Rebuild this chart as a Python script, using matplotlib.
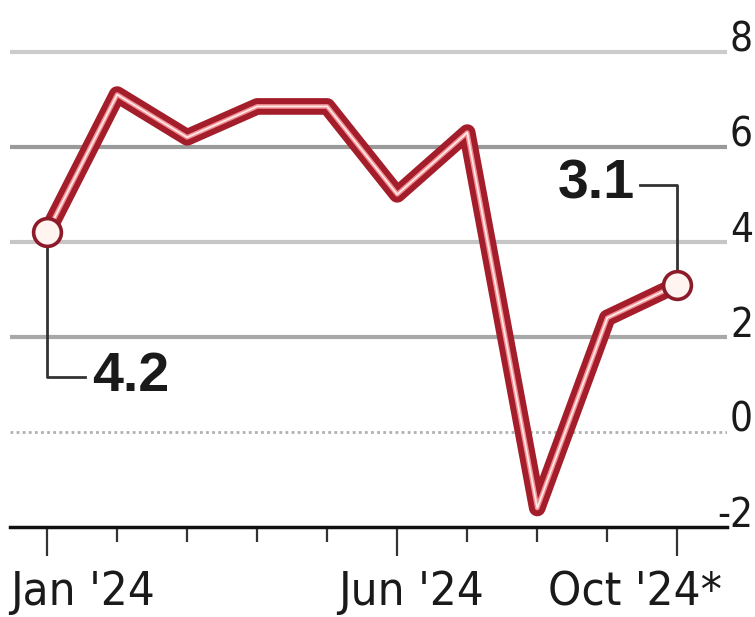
import matplotlib
matplotlib.use("Agg")
import matplotlib.pyplot as plt
from matplotlib import font_manager
from matplotlib.font_manager import FontProperties
from matplotlib.transforms import offset_copy

months = ["Jan '24", "Feb", "Mar", "Apr", "May", "Jun '24", "Jul", "Aug", "Sep", "Oct '24*"]
values = [4.2, 7.1, 6.2, 6.85, 6.85, 5.0, 6.3, -1.6, 2.4, 3.1]
major_idx = [0, 5, 9]
major_labels = ["Jan '24", "Jun '24", "Oct '24*"]
yticks = [8, 6, 4, 2, 0, -2]
ytick_labels = ["8", "6", "4", "2", "0", "-2"]

# look for a condensed / narrow face for the tick labels
cond = None
for f in font_manager.fontManager.ttflist:
    nm = (f.name + ' ' + f.fname).lower()
    st = str(f.stretch).lower()
    if ('condensed' in nm or 'narrow' in nm or 'condensed' in st) and f.style == 'normal' \
            and 'semi' not in nm and 'extra' not in nm and 'ultra' not in nm:
        w = f.weight if isinstance(f.weight, int) else 400
        if w in (300, 400):
            cond = f.fname
            if w == 400:
                break

plt.rcParams['font.family'] = ['Liberation Sans', 'DejaVu Sans']
if cond:
    tick_fp = FontProperties(fname=cond, size=34)
    ytick_fp = FontProperties(fname=cond, size=29)
else:
    tick_fp = FontProperties(family=['Liberation Sans', 'DejaVu Sans'], size=32)
    ytick_fp = FontProperties(family=['Liberation Sans', 'DejaVu Sans'], size=28)

fig = plt.figure(figsize=(7.55, 6.17), dpi=100)
ax = fig.add_axes([10/755, 90/617, 717/755, 527/617])
ax.set_xlim(-0.53, 9.71)
ax.set_ylim(-2, 9.09)
ax.set_facecolor('white')
for s in ax.spines.values():
    s.set_visible(False)

grid_colors = {8: '#cccccc', 6: '#9a9a9a', 4: '#c6c6c6', 2: '#a8a8a8'}
for y, c in grid_colors.items():
    ax.axhline(y, color=c, lw=3, zorder=1, solid_capstyle='butt')
ax.axhline(0, color='#b0b0b0', lw=2, ls=(0, (1, 1.2)), zorder=1)
ax.axhline(-2, color='#111111', lw=2.5, zorder=3, clip_on=False)

x = list(range(len(values)))
ax.plot(x, values, color='#a41d2a', lw=12, zorder=4, solid_joinstyle='round', solid_capstyle='butt')
ax.plot(x, values, color='#f08e92', lw=3.4, zorder=5, solid_joinstyle='round', solid_capstyle='butt')
ax.plot(x, values, color='#ffe8e8', lw=1.3, zorder=6, solid_joinstyle='round', solid_capstyle='butt')
ax.plot([x[0], x[-1]], [values[0], values[-1]], 'o', ms=20, mfc='#fff4f0', mec='#8c1a28', mew=2.6, zorder=7)

# x ticks
ax.set_xticks(major_idx)
ax.set_xticks([i for i in x if i not in major_idx], minor=True)
ax.tick_params(axis='x', which='major', length=21, width=1.6, color='#333333', labelbottom=False)
ax.tick_params(axis='x', which='minor', length=11, width=1.6, color='#333333', labelbottom=False)
ax.set_yticks([])

base = offset_copy(ax.transData, fig=fig, x=0, y=-78, units='dots')
ax.text(-0.53, -2, major_labels[0], ha='left', va='baseline', fontproperties=tick_fp,
        transform=base, color='#1a1a1a')
ax.text(5.2, -2, major_labels[1], ha='center', va='baseline', fontproperties=tick_fp,
        transform=base, color='#1a1a1a')
ax.text(9.64, -2, major_labels[2], ha='right', va='baseline', fontproperties=tick_fp,
        transform=base, color='#1a1a1a')

ytr = offset_copy(ax.get_yaxis_transform(), fig=fig, x=26, y=0, units='dots')
for y, lab in zip(yticks, ytick_labels):
    ax.text(1.0, y, lab, ha='right', va='baseline', fontproperties=ytick_fp,
            transform=ytr, color='#1a1a1a', clip_on=False)

# annotations with leader lines
ax.plot([0, 0, 0.54], [values[0] - 0.3, 1.15, 1.15], color='#333333', lw=2, zorder=3)
ax.text(0.65, 1.15, "4.2", ha='left', va='center', fontsize=40, fontweight='bold', color='#1a1a1a')
ax.plot([9, 9, 8.47], [values[-1] + 0.3, 5.2, 5.2], color='#333333', lw=2, zorder=3)
ax.text(8.4, 5.2, "3.1", ha='right', va='center', fontsize=40, fontweight='bold', color='#1a1a1a')

fig.savefig('out.png', dpi=100, facecolor='white')
